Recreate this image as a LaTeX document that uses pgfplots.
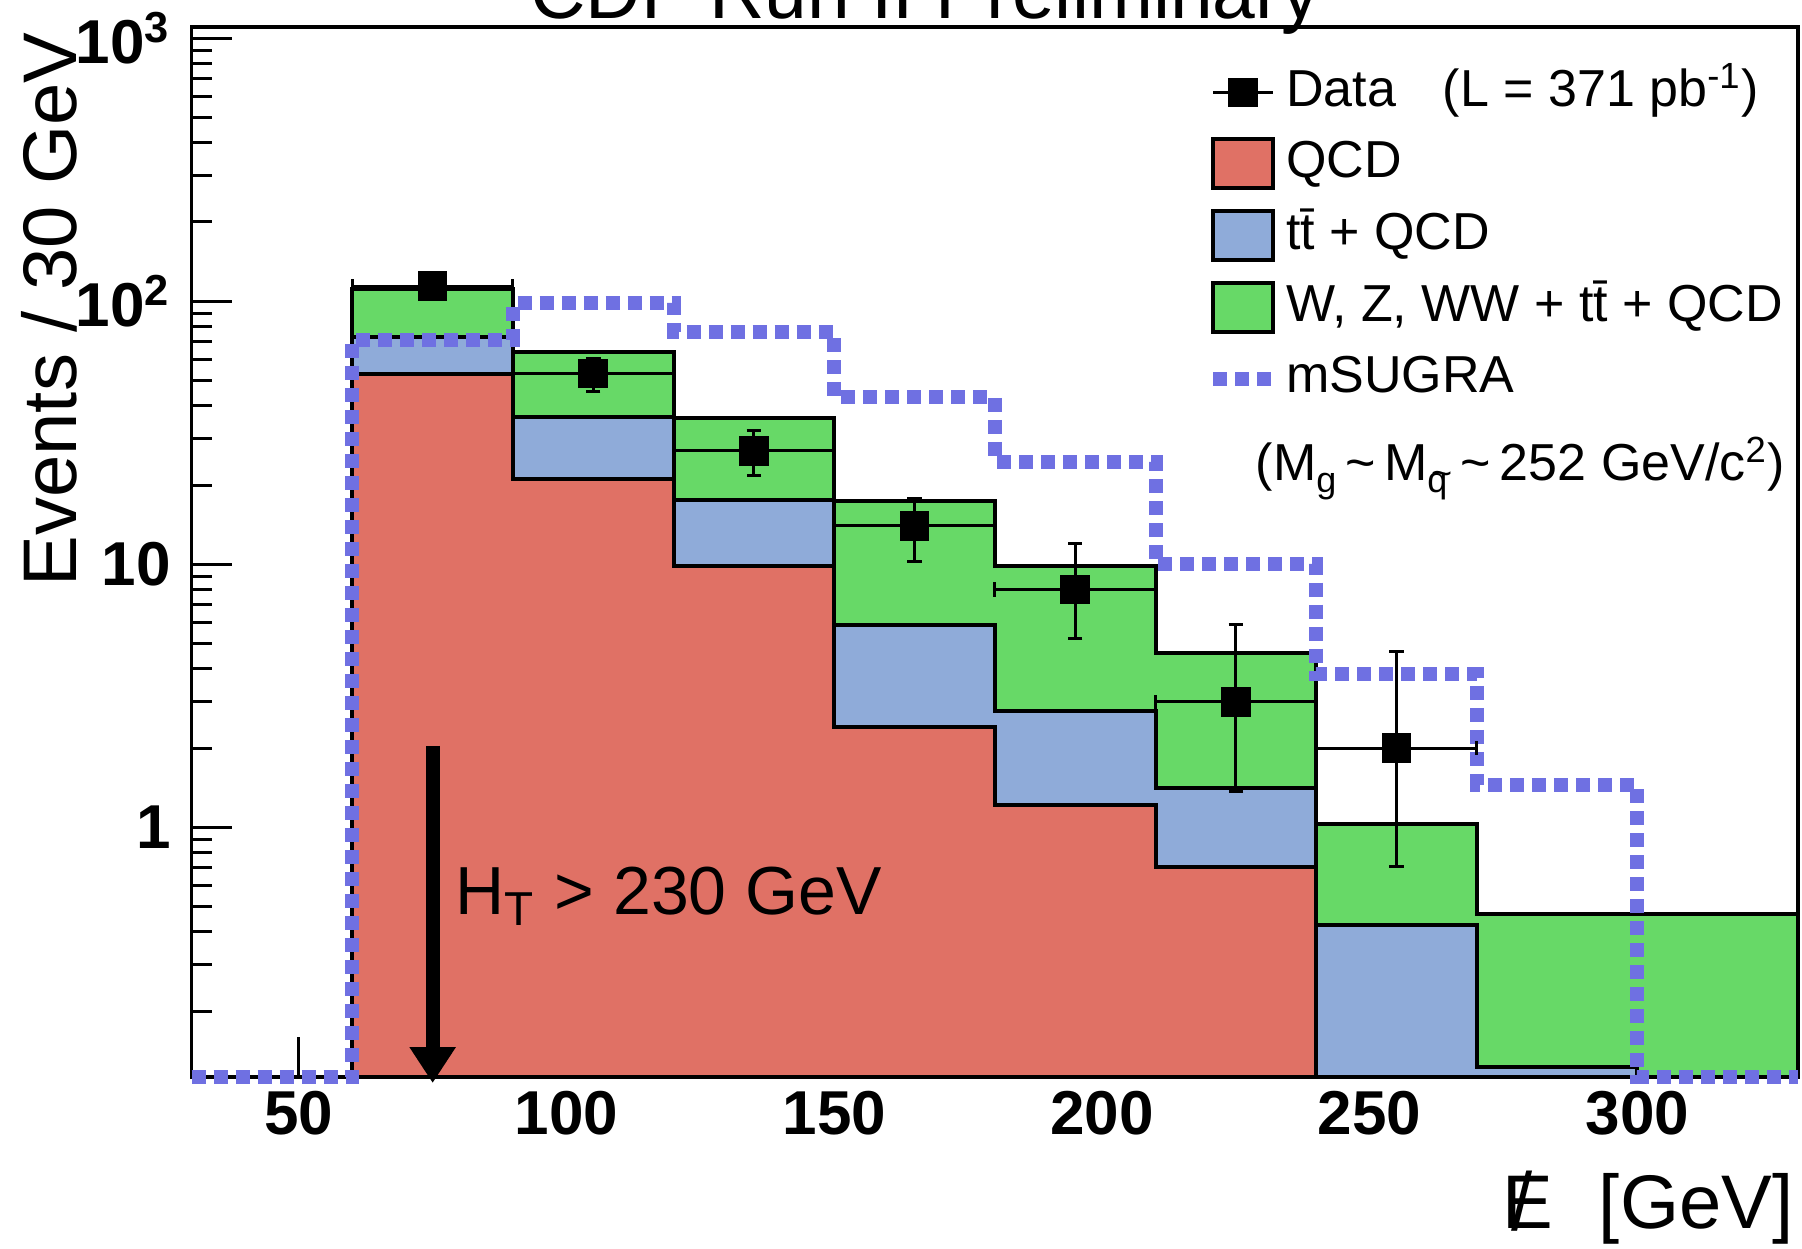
\documentclass[border=0pt]{standalone}
\usepackage{pgfplots}
\pgfplotsset{compat=1.18}
\usepackage{fontspec}
\setmainfont{Liberation Sans}
\usetikzlibrary{arrows.meta}
\definecolor{cred}{RGB}{224,113,101}
\definecolor{cblue}{RGB}{143,171,217}
\definecolor{cgreen}{RGB}{103,217,103}
\definecolor{csusy}{RGB}{111,112,226}
\begin{document}
\begin{tikzpicture}
\begin{axis}[
  at={(0,0)}, anchor=south west,
  scale only axis, width=401.6pt, height=262.5pt,
  xmin=30, xmax=330, ymode=log, ymin=0.112, ymax=1100,
  clip=false,
  axis line style={line width=0.9pt},
  tick style={line width=0.75pt, black},
  major tick length=10pt, minor tick length=5pt,
  tick pos=left,
  xtick={50,100,150,200,250,300},
  xticklabels={50,100,150,200,250,300},
  minor x tick num=4,
  yticklabel={\pgfmathtruncatemacro\e{round(\tick/ln(10))}\ifnum\e=0 1\else\ifnum\e=1 10\else 10\textsuperscript{\e}\fi\fi},
  ticklabel style={font=\fontsize{15.5}{18}\selectfont\bfseries},
  xticklabel style={anchor=north, inner sep=0pt, yshift=-3.25pt},
  yticklabel style={anchor=east, inner sep=0pt, xshift=-5pt},
  legend cell align=left,
  legend style={draw=none, fill=none, at={(rel axis cs:0.631,0.9635)}, anchor=north west,
    inner sep=0pt, row sep=4.75pt, column sep=2pt,
    font=\fontsize{13}{15}\selectfont,
    nodes={inner sep=0pt, text height=10pt, text depth=3pt}},
]
% stacked histograms
\addplot[forget plot, fill=cgreen, draw=black, line width=1pt, const plot mark left]
  coordinates {(60,0.112) (60,111.4) (90,64.0) (120,36.0) (150,17.4) (180,9.81) (210,4.59) (240,1.03) (270,0.469) (300,0.469) (330,0.469) (330,0.112) (60,0.112)};
\addplot[forget plot, fill=cblue, draw=black, line width=1pt, const plot mark left]
  coordinates {(60,0.112) (60,72.8) (90,36.2) (120,17.5) (150,5.86) (180,2.77) (210,1.41) (240,0.424) (270,0.123) (300,0.112) (60,0.112)};
\addplot[forget plot, fill=cred, draw=black, line width=1pt, const plot mark left]
  coordinates {(60,0.112) (60,52.8) (90,21.1) (120,9.84) (150,2.40) (180,1.215) (210,0.705) (240,0.112) (60,0.112)};
% mSUGRA
\addplot[forget plot, csusy, line width=3.5pt, dash pattern=on 3.5pt off 2pt, const plot mark left]
  coordinates {(30,0.112) (60,71.4) (90,98.3) (120,76.3) (150,43.1) (180,24.5) (210,10.0) (240,3.84) (270,1.45) (300,0.112) (330,0.112)};
% data
\addplot[forget plot, only marks, mark=square*, mark size=3.5pt, black,
  error bars/.cd, x dir=both, x explicit, y dir=both, y explicit,
  error bar style={line width=0.75pt, black},
  error mark options={rotate=90, mark size=1.8pt, line width=0.75pt, black}]
  coordinates {
  (75,114) += (15,10.7) -= (15,10.7)
  (105,53) += (15,7.3) -= (15,7.6)
  (135,27) += (15,5.2) -= (15,5.2)
  (165,14) += (15,3.8) -= (15,3.8)
  (195,8) += (15,3.94) -= (15,2.79)
  (225,3) += (15,2.91) -= (15,1.63)
  (255,2) += (15,2.64) -= (15,1.29)
  };
% legend
\addlegendimage{legend image code/.code={\draw[black, line width=0.75pt] (0pt,0pt) -- (15pt,0pt); \fill[black] (7.5pt,0pt) +(-3.5pt,-3.5pt) rectangle +(3.5pt,3.5pt);}}
\addlegendentry{Data\hspace{0.9em}(L = 371 pb\textsuperscript{-1})}
\addlegendimage{legend image code/.code={\draw[fill=cred, line width=1pt] (0pt,-6.1pt) rectangle (15pt,6.1pt);}}
\addlegendentry{QCD}
\addlegendimage{legend image code/.code={\draw[fill=cblue, line width=1pt] (0pt,-6.1pt) rectangle (15pt,6.1pt);}}
\addlegendentry{t\={t} + QCD}
\addlegendimage{legend image code/.code={\draw[fill=cgreen, line width=1pt] (0pt,-6.1pt) rectangle (15pt,6.1pt);}}
\addlegendentry{W, Z, WW + t\={t} + QCD}
\addlegendimage{legend image code/.code={\draw[csusy, line width=3.5pt, dash pattern=on 3.5pt off 2pt] (0pt,0pt) -- (14.5pt,0pt);}}
\addlegendentry{mSUGRA}
% annotations
\node[anchor=base east, font=\fontsize{13}{15}\selectfont, inner sep=0pt] at (rel axis cs:0.9925,0.5688)
  {(M\raisebox{-0.45ex}{\fontsize{9}{10}\selectfont g}\,\textasciitilde\,M\raisebox{-0.45ex}{\fontsize{9}{10}\selectfont q\kern-0.45em\raisebox{0.35ex}{\textasciitilde}}\,\textasciitilde\,252 GeV/c\textsuperscript{2})};
\node[anchor=base west, font=\fontsize{17}{20}\selectfont, inner sep=0pt] at (rel axis cs:0.1638,0.1547)
  {H\textsubscript{T} > 230 GeV};
\draw[line width=3.5pt, -{Triangle[width=11pt,length=9pt]}] (axis cs:75,2.04) -- (axis cs:75,0.1065);
\node[anchor=base, font=\fontsize{19.2}{22}\selectfont, inner sep=0pt] at (rel axis cs:0.4564,1.00876)
  {CDF Run II Preliminary};
\node[anchor=base east, rotate=90, font=\fontsize{19}{22}\selectfont, inner sep=0pt] at (rel axis cs:-0.07147,0.99543)
  {Events / 30 GeV};
\node[anchor=base east, font=\fontsize{19}{22}\selectfont, inner sep=0pt] at (rel axis cs:0.9975,-0.1444)
  {\makebox[0pt][l]{\kern0.12em\raisebox{-0.02em}{\scalebox{1.0}[1.08]{/}}}E\hspace{0.6em}[GeV]};
\end{axis}
\pgfresetboundingbox
\path[use as bounding box] (-47.925pt,-42.925pt) rectangle (402.575pt,269.325pt);
\end{tikzpicture}
\end{document}
